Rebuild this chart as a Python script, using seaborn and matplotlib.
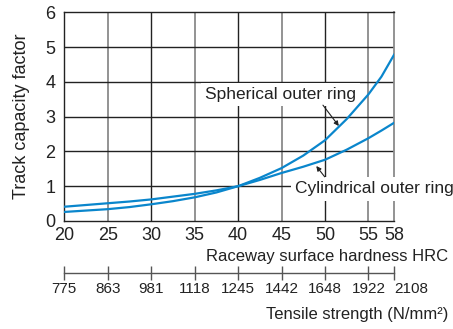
import matplotlib
matplotlib.use("Agg")
import matplotlib.pyplot as plt
from matplotlib import font_manager
import seaborn as sns
import pandas as pd

# --- data ---
hrc = [20, 22.5, 25, 27.5, 30, 32.5, 35, 37.5, 40, 42.5, 45, 47.5, 50, 52.5, 55, 56.5, 58]
spherical = [0.26, 0.30, 0.34, 0.40, 0.48, 0.57, 0.68, 0.82, 1.0, 1.24, 1.52, 1.88, 2.32, 2.93, 3.64, 4.15, 4.8]
cylindrical = [0.41, 0.46, 0.51, 0.56, 0.62, 0.70, 0.78, 0.88, 1.0, 1.18, 1.38, 1.56, 1.76, 2.05, 2.38, 2.6, 2.83]

hrc_ticks = [20, 25, 30, 35, 40, 45, 50, 55, 58]
tensile_labels = ["775", "863", "981", "1118", "1245", "1442", "1648", "1922", "2108"]
y_ticks = [0, 1, 2, 3, 4, 5, 6]

df = pd.DataFrame({"HRC": hrc, "Spherical": spherical, "Cylindrical": cylindrical})

sns.set_theme(style="white")
plt.rcParams["font.family"] = ["Liberation Sans", "DejaVu Sans"]

names = {f.name for f in font_manager.fontManager.ttflist}
narrow = "Liberation Sans Narrow" in names

dark = "#222222"
gray = "#8a8a8a"
blue = "#0a86cc"

fig = plt.figure(figsize=(4.53, 3.29), dpi=100)
ax = fig.add_axes([0.1419, 0.3283, 0.7289, 0.6343])

sns.lineplot(data=df, x="HRC", y="Spherical", ax=ax, color=blue, lw=1.6, zorder=5)
sns.lineplot(data=df, x="HRC", y="Cylindrical", ax=ax, color=blue, lw=1.6, zorder=5)

ax.set_xlim(20, 58)
ax.set_ylim(0, 6)

# grid: every other vertical line is grey
for i, x in enumerate(hrc_ticks[1:-1]):
    c = gray if i % 2 == 0 else dark
    lw = 1.3 if i % 2 == 0 else 1.0
    ax.axvline(x, color=c, lw=lw, zorder=1)
for y in y_ticks[1:-1]:
    ax.axhline(y, color=dark, lw=1.0, zorder=1)

for s in ["left", "top", "bottom"]:
    ax.spines[s].set_color(dark)
    ax.spines[s].set_linewidth(1.0)
ax.spines["right"].set_color(gray)
ax.spines["right"].set_linewidth(1.3)

ax.set_xticks(hrc_ticks)
ax.set_xticklabels([str(t) for t in hrc_ticks])
ax.set_yticks(y_ticks)
ax.tick_params(axis="both", length=0, labelsize=13, colors=dark)
ax.tick_params(axis="x", pad=4)
ax.tick_params(axis="y", pad=6.5)
ax.set_xlabel("")
ax.set_ylabel("Track capacity factor", fontsize=13, color=dark)
ax.yaxis.set_label_coords(-0.104, 0.5)

# second scale: tensile strength
sec = ax.secondary_xaxis(-0.2477)
sec.set_xticks(hrc_ticks)
sec.set_xticklabels(tensile_labels)
sec.tick_params(axis="x", direction="inout", length=9.6, width=1.0, color="#555555",
                labelsize=12.5 if narrow else 11, labelcolor=dark, pad=2)
for lab in sec.get_xticklabels():
    if narrow:
        lab.set_family(["Liberation Sans Narrow", "Liberation Sans"])
sec.get_xticklabels()[-1].set_ha("left")
sec.spines["bottom"].set_color("#555555")
sec.spines["bottom"].set_linewidth(1.0)

fig.text(0.989, 0.22, "Raceway surface hardness HRC", ha="right", va="center",
         fontsize=12, color=dark)
fig.text(0.989, 0.043, "Tensile strength (N/mm²)", ha="right", va="center",
         fontsize=12, color=dark)

box = dict(facecolor="white", edgecolor="none", pad=3)
ax.text(36.17, 3.63, "Spherical outer ring", ha="left", va="center", fontsize=12.5,
        color=dark, bbox=box, zorder=3)
ax.text(46.6, 0.92, "Cylindrical outer ring", ha="left", va="center", fontsize=12.5,
        color=dark, bbox=box, zorder=3, clip_on=False)

arrow = dict(arrowstyle="-|>", color=dark, lw=0.8, mutation_scale=7, shrinkA=0, shrinkB=0)
ax.annotate("", xy=(51.6, 2.73), xytext=(49.77, 3.33), arrowprops=arrow)
ax.annotate("", xy=(49.0, 1.58), xytext=(49.97, 1.27), arrowprops=arrow)

fig.savefig("out.png", dpi=100)
